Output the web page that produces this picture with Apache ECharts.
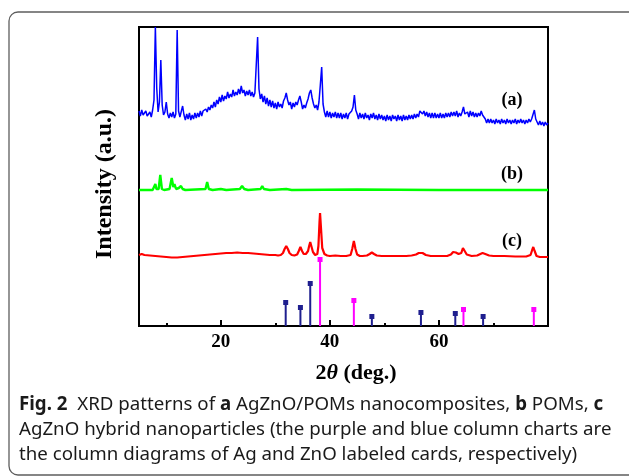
<!DOCTYPE html>
<html>
<head>
<meta charset="utf-8">
<script src="https://cdn.jsdelivr.net/npm/echarts@6/dist/echarts.min.js"></script>
<style>
  html, body { margin: 0; padding: 0; background: #fff; }
  #chart { width: 629px; height: 476px; }
</style>
</head>
<body>
<div id="chart"></div>
<script>
// 2θ sampling of pattern (a): starts at 5°, one reading every 0.25°
const thetaStart = 5;
const thetaStep = 0.25;

// (a) AgZnO/POMs nanocomposites, intensity (a.u.)
const intensityA = [
  215,210,216,211,209,215,210,208,214,209,216,226,299,238,214,224,266,221,211,214,
  224,212,208,213,209,214,208,212,296,215,209,211,220,211,206,212,207,213,206,211,
  207,213,208,213,209,215,210,215,213,217,214,219,216,221,218,224,219,226,222,229,
  224,231,225,230,227,234,228,232,229,236,230,234,231,237,232,240,233,236,230,235,
  231,236,230,234,229,233,231,289,237,227,232,224,230,222,228,220,226,219,225,218,
  223,217,224,219,222,218,225,228,233,226,221,224,217,223,219,224,221,226,230,224,
  217,221,218,223,227,233,236,228,222,218,221,216,224,241,259,222,214,209,215,209,
  214,208,213,209,214,208,213,208,213,207,212,208,213,207,212,210,215,219,231,216,
  212,207,213,208,212,207,213,208,211,206,212,208,213,207,211,206,212,207,211,206,
  210,205,211,206,210,205,211,207,210,205,211,206,210,205,211,206,210,206,211,207,
  211,207,212,208,212,209,215,217,212,215,210,214,209,213,208,213,208,213,208,212,
  208,213,208,212,208,213,209,213,209,214,210,214,210,215,209,213,210,214,219,212,
  210,214,209,215,210,214,209,213,209,213,210,215,211,209,207,203,207,203,207,203,
  206,202,207,203,206,202,207,203,206,202,207,203,206,202,206,203,207,202,206,203,
  207,203,206,202,206,203,207,204,207,209,216,207,204,201,205,201,204,200,204,201,
  203
];

// (b) POMs, [2θ, intensity]
const patternB = [
  [5,136],[7.5,136],[7.8,138],[8.0,142],[8.2,137],[8.6,137],[8.9,151],[9.2,137],
  [9.6,136],[10.6,137],[11.0,148],[11.3,139],[11.5,142],[11.8,137],[12.3,138],
  [12.7,140],[13.0,137],[13.5,136],[17.2,137],[17.5,144],[17.8,137],[18.5,136],
  [20,137],[21,136],[23.5,137],[23.9,140],[24.3,137],[25,136],[27.3,137],[27.6,140],
  [27.9,137],[29,136],[32,137],[33,136],[45,136.5],[60,136],[80,136]
];

// (c) AgZnO hybrid nanoparticles, [2θ, intensity]
const patternC = [
  [5,71],[5.5,72],[6,71],[7,70.5],[8,70],[9,69.5],[10,69],[11,68.5],[12,68.5],[13,69],
  [14,69.5],[15,70],[16,70.5],[17,71],[18,71.5],[19,72],[20,72.5],[21,73],[22,73],
  [23,73.5],[24,73],[25,73],[26,72.5],[27,72],[28,71.5],[29,71],[30,71],[30.5,70.5],
  [31,71],[31.4,73],[31.7,77],[32.0,80],[32.3,77],[32.6,73],[33,71],[33.5,70.5],
  [34,71.5],[34.3,75],[34.6,79],[34.9,75],[35.2,72],[35.6,72],[36.0,75],[36.2,80],
  [36.4,84],[36.6,80],[36.9,74],[37.3,71],[37.7,72],[37.9,80],[38.1,104],[38.2,113],
  [38.35,100],[38.6,78],[39,72],[39.5,70.5],[40,70],[41,70.5],[42,70],[43,70],
  [43.8,71],[44.1,77],[44.4,85],[44.7,77],[45,71.5],[45.5,70],[46,70],[46.8,70.5],
  [47.3,72],[47.7,73.5],[48.1,72],[48.6,70.5],[49.5,70],[51,70],[52.5,70],[54,70],
  [55,70.5],[55.8,71.5],[56.3,73],[56.6,74],[57,73],[57.6,71],[58.5,70],[60,70],
  [61.5,70],[62.2,71.5],[62.6,74],[62.8,75],[63.1,73.5],[63.6,72],[64.1,73],[64.4,78],
  [64.5,79],[64.7,76],[65.1,71.5],[66,70],[67,70.5],[67.6,72],[68,73],[68.5,72],
  [69.2,70.5],[70,70],[72,70],[74,69.5],[76,69.5],[76.8,71],[77.1,76],[77.3,79],
  [77.55,75],[77.9,70],[78.5,69],[80,69]
];

// reference card lines
const znoTheta = [31.9, 34.6, 36.4, 47.7, 56.7, 63.0, 68.1];
const znoIntensity = [24, 19, 43, 10, 14, 13, 10];
const agTheta = [38.2, 44.4, 64.5, 77.4];
const agIntensity = [67, 26, 17, 17];

// axis ticks
const majorTicks = [20, 40, 60];
const minorTicks = [10, 30, 50, 70];

const serif = '"Liberation Serif", "Times New Roman", serif';
const sans = '"Noto Sans", "Open Sans", sans-serif';
const captionSize = 18.7;

const seriesA = intensityA.map((v, i) => [thetaStart + i * thetaStep, v]);
const pairs = (xs, ys) => xs.map((x, i) => [x, ys[i]]);

function stickRenderer(color) {
  return function (params, api) {
    const base = api.coord([api.value(0), 0]);
    const top = api.coord([api.value(0), api.value(1)]);
    return {
      type: 'group',
      children: [
        { type: 'line', shape: { x1: base[0], y1: base[1], x2: top[0], y2: top[1] },
          style: { stroke: color, lineWidth: 2 } },
        { type: 'rect', shape: { x: top[0] - 2.5, y: top[1] - 2, width: 5, height: 5 },
          style: { fill: color } }
      ]
    };
  };
}

const chart = echarts.init(document.getElementById('chart'), null, { renderer: 'canvas' });

const captionRich = {
  b: { fontFamily: sans, fontSize: captionSize, fontWeight: 'bold', fill: '#1a1a1a' }
};

chart.setOption({
  animation: false,
  backgroundColor: '#fff',
  grid: {
    left: 139, right: 81, top: 27, bottom: 150,
    show: true, borderColor: '#000', borderWidth: 2, backgroundColor: 'transparent'
  },
  xAxis: [
    {
      type: 'value', min: 5, max: 80,
      axisLine: { show: false },
      splitLine: { show: false },
      axisTick: { show: true, inside: true, length: 6, customValues: majorTicks,
        lineStyle: { color: '#000', width: 2 } },
      axisLabel: { show: true, customValues: majorTicks, margin: 7,
        fontFamily: serif, fontWeight: 'bold', fontSize: 19, color: '#000' }
    },
    {
      type: 'value', min: 5, max: 80, position: 'bottom',
      axisLine: { show: false },
      splitLine: { show: false },
      axisTick: { show: true, inside: true, length: 3, customValues: minorTicks,
        lineStyle: { color: '#000', width: 2 } },
      axisLabel: { show: false }
    }
  ],
  yAxis: {
    type: 'value', min: 0, max: 299,
    axisLine: { show: false }, axisTick: { show: false },
    axisLabel: { show: false }, splitLine: { show: false }
  },
  series: [
    { type: 'line', name: '(a)', data: seriesA, showSymbol: false, xAxisIndex: 0,
      lineStyle: { color: '#0000ff', width: 1.5 }, z: 3 },
    { type: 'line', name: '(b)', data: patternB, showSymbol: false, xAxisIndex: 0,
      lineStyle: { color: '#00ff00', width: 2.4 }, z: 3 },
    { type: 'line', name: '(c)', data: patternC, showSymbol: false, xAxisIndex: 0,
      lineStyle: { color: '#ff0000', width: 2.2 }, z: 3 },
    { type: 'custom', name: 'ZnO', data: pairs(znoTheta, znoIntensity), xAxisIndex: 0,
      renderItem: stickRenderer('#1f1f8f'), z: 2 },
    { type: 'custom', name: 'Ag', data: pairs(agTheta, agIntensity), xAxisIndex: 0,
      renderItem: stickRenderer('#ff00ff'), z: 2 }
  ],
  graphic: [
    { type: 'rect', shape: { x: 9, y: 12, width: 640, height: 463, r: 9 },
      style: { fill: 'none', stroke: '#5e5e5e', lineWidth: 1.3 }, silent: true },
    { type: 'text', x: 512, y: 100,
      style: { text: '(a)', font: 'bold 18px ' + serif, fill: '#000', align: 'center', verticalAlign: 'middle' } },
    { type: 'text', x: 512, y: 174,
      style: { text: '(b)', font: 'bold 18px ' + serif, fill: '#000', align: 'center', verticalAlign: 'middle' } },
    { type: 'text', x: 512, y: 241,
      style: { text: '(c)', font: 'bold 18px ' + serif, fill: '#000', align: 'center', verticalAlign: 'middle' } },
    { type: 'text', x: 105, y: 184, rotation: Math.PI / 2,
      style: { text: 'Intensity (a.u.)', font: 'bold 24px ' + serif, fill: '#000', align: 'center', verticalAlign: 'middle' } },
    { type: 'text', x: 356, y: 373,
      style: {
        text: '{n|2}{t|θ}{n| (deg.)}', align: 'center', verticalAlign: 'middle',
        rich: {
          n: { fontFamily: serif, fontSize: 22, fontWeight: 'bold', fill: '#000' },
          t: { fontFamily: serif, fontSize: 22, fontWeight: 'bold', fontStyle: 'italic', fill: '#000' }
        }
      } },
    { type: 'text', x: 19, y: 405,
      style: { text: '{b|Fig. 2}  XRD patterns of {b|a} AgZnO/POMs nanocomposites, {b|b} POMs, {b|c}',
        font: captionSize + 'px ' + sans, fill: '#1a1a1a', verticalAlign: 'middle', rich: captionRich } },
    { type: 'text', x: 19, y: 430,
      style: { text: 'AgZnO hybrid nanoparticles (the purple and blue column charts are',
        font: captionSize + 'px ' + sans, fill: '#1a1a1a', verticalAlign: 'middle' } },
    { type: 'text', x: 19, y: 455,
      style: { text: 'the column diagrams of Ag and ZnO labeled cards, respectively)',
        font: captionSize + 'px ' + sans, fill: '#1a1a1a', verticalAlign: 'middle' } }
  ]
});
</script>
</body>
</html>
